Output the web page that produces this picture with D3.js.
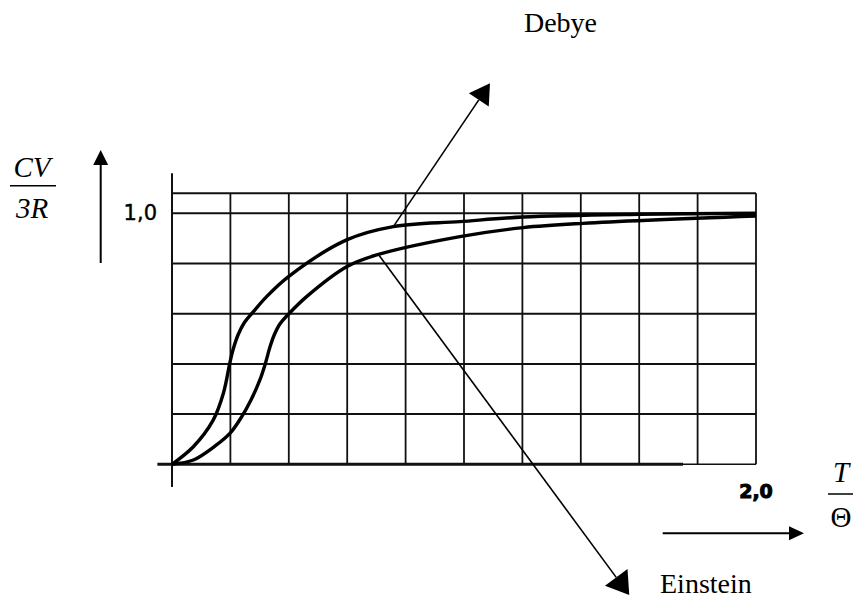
<!DOCTYPE html>
<html>
<head>
<meta charset="utf-8">
<script src="https://cdn.jsdelivr.net/npm/d3@7"></script>
<style>
  body { margin: 0; background: #fff; }
  svg { display: block; }
</style>
</head>
<body>
<div id="chart"></div>
<script>
// heat capacity curves (T/Theta vs Cv/3R)
var debyeT = [0, 0.073, 0.141, 0.176, 0.199, 0.210, 0.226, 0.248, 0.278, 0.324, 0.398, 0.598, 0.758, 0.986, 1.202, 1.6, 2.0];
var debyeC = [0, 0.070, 0.176, 0.283, 0.409, 0.460, 0.515, 0.565, 0.607, 0.668, 0.747, 0.894, 0.947, 0.967, 0.985, 0.996, 1.0];
var einsteinT = [0, 0.073, 0.150, 0.199, 0.239, 0.270, 0.301, 0.318, 0.336, 0.350, 0.370, 0.398, 0.461, 0.598, 0.701, 0.986, 1.203, 1.408, 2.0];
var einsteinC = [0, 0.017, 0.075, 0.124, 0.190, 0.255, 0.336, 0.395, 0.469, 0.515, 0.560, 0.597, 0.668, 0.787, 0.834, 0.907, 0.943, 0.960, 0.989];

var xGrid = d3.range(0, 2.0001, 0.2);   // vertical grid lines
var yGrid = [0, 0.2, 0.4, 0.6, 0.8, 1.0, 1.08]; // horizontal grid lines
var yTickLabel = "1,0";
var xTickLabel = "2,0";

// annotation arrows: start on the curve, tip in data units
var arrowNames = ["Debye", "Einstein"];
var arrowFrom = [[0.758, 0.947], [0.707, 0.836]];
var arrowTip = [[1.089, 1.518], [1.566, -0.521]];

function init() {
    var w = 854, h = 603;
    var svg = d3.select("#chart").append("svg")
        .attr("width", w)
        .attr("height", h);
    svg.append("rect").attr("width", w).attr("height", h).attr("fill", "#fff");

    var xScale = d3.scaleLinear().domain([0, 2]).range([172, 756]);
    var yScale = d3.scaleLinear().domain([0, 1]).range([464.3, 213.3]);

    var grid = svg.append("g").attr("stroke", "#111").attr("fill", "none");

    // vertical grid lines
    grid.selectAll(".vline")
        .data(xGrid)
        .enter()
        .append("line")
        .attr("x1", function(d) { return xScale(d); })
        .attr("x2", function(d) { return xScale(d); })
        .attr("y1", yScale(0))
        .attr("y2", yScale(1.08))
        .attr("stroke-width", function(d, i) { return i == 0 ? 2 : 1.8; });

    // horizontal grid lines
    grid.selectAll(".hline")
        .data(yGrid)
        .enter()
        .append("line")
        .attr("x1", xScale(0))
        .attr("x2", xScale(2))
        .attr("y1", function(d) { return yScale(d); })
        .attr("y2", function(d) { return yScale(d); })
        .attr("stroke-width", function(d) { return d == 0 ? 1.5 : 2; });

    // left axis runs past the grid, baseline is heavier
    grid.append("line")
        .attr("x1", xScale(0)).attr("x2", xScale(0))
        .attr("y1", yScale(1.16)).attr("y2", yScale(-0.09))
        .attr("stroke-width", 2);
    grid.append("line")
        .attr("x1", xScale(-0.05)).attr("x2", xScale(1.75))
        .attr("y1", yScale(0)).attr("y2", yScale(0))
        .attr("stroke-width", 3);

    // curves
    var line = d3.line()
        .x(function(d) { return xScale(d[0]); })
        .y(function(d) { return yScale(d[1]); })
        .curve(d3.curveCatmullRom.alpha(0.5));

    var series = [d3.zip(debyeT, debyeC), d3.zip(einsteinT, einsteinC)];
    svg.selectAll(".curve")
        .data(series)
        .enter()
        .append("path")
        .attr("class", "curve")
        .attr("d", line)
        .attr("fill", "none")
        .attr("stroke", "#000")
        .attr("stroke-width", 3.4);

    // annotation arrows with big filled heads
    var headLen = [20, 22], headWide = [24, 28];
    arrowNames.forEach(function(name, i) {
        var x0 = xScale(arrowFrom[i][0]), y0 = yScale(arrowFrom[i][1]);
        var x1 = xScale(arrowTip[i][0]), y1 = yScale(arrowTip[i][1]);
        var len = Math.hypot(x1 - x0, y1 - y0);
        var ux = (x1 - x0) / len, uy = (y1 - y0) / len;
        var bx = x1 - ux * headLen[i], by = y1 - uy * headLen[i];
        var hw = headWide[i] / 2;
        svg.append("line")
            .attr("x1", x0).attr("y1", y0)
            .attr("x2", bx).attr("y2", by)
            .attr("stroke", "#000")
            .attr("stroke-width", 1.6);
        svg.append("polygon")
            .attr("points", [[x1, y1], [bx - uy * hw, by + ux * hw], [bx + uy * hw, by - ux * hw]].join(" "))
            .attr("fill", "#000");
    });

    // tick labels
    svg.append("text")
        .attr("x", 157).attr("y", 220)
        .attr("text-anchor", "end")
        .style("font-family", "DejaVu Sans")
        .style("font-size", "21px")
        .attr("stroke", "#000").attr("stroke-width", 0.4)
        .text(yTickLabel);
    svg.append("text")
        .attr("x", xScale(2)).attr("y", 498)
        .attr("text-anchor", "middle")
        .style("font-family", "DejaVu Sans")
        .style("font-weight", "bold")
        .style("font-size", "19px")
        .attr("stroke", "#000").attr("stroke-width", 1)
        .text(xTickLabel);

    // curve names
    svg.append("text")
        .attr("x", 597).attr("y", 31.7)
        .attr("text-anchor", "end")
        .style("font-family", "Liberation Serif")
        .style("font-size", "28px")
        .text(arrowNames[0]);
    svg.append("text")
        .attr("x", 660).attr("y", 593.3)
        .style("font-family", "Liberation Serif")
        .style("font-size", "28px")
        .text(arrowNames[1]);

    // axis titles as fractions
    function fraction(cx, top, bar, bottom, x1, x2, upper, lower, lowerItalic) {
        svg.append("text")
            .attr("x", cx).attr("y", top)
            .attr("text-anchor", "middle")
            .style("font-family", "Liberation Serif")
            .style("font-style", "italic")
            .style("font-size", "29px")
            .text(upper);
        svg.append("line")
            .attr("x1", x1).attr("x2", x2)
            .attr("y1", bar).attr("y2", bar)
            .attr("stroke", "#000").attr("stroke-width", 1.5);
        svg.append("text")
            .attr("x", cx).attr("y", bottom)
            .attr("text-anchor", "middle")
            .style("font-family", "Liberation Serif")
            .style("font-style", lowerItalic ? "italic" : "normal")
            .style("font-size", "29px")
            .text(lower);
    }
    fraction(32, 176.7, 185.7, 218.3, 10, 56, "CV", "3R", true);
    fraction(841, 481.7, 494, 526.7, 828, 853, "T", "\u0398", false);

    // direction arrows next to the axes
    svg.append("line")
        .attr("x1", 100.7).attr("x2", 100.7)
        .attr("y1", 263).attr("y2", 164)
        .attr("stroke", "#000").attr("stroke-width", 2);
    svg.append("polygon")
        .attr("points", "100.7,150 93.2,165 108.2,165")
        .attr("fill", "#000");
    svg.append("line")
        .attr("x1", 662.7).attr("x2", 790)
        .attr("y1", 533.3).attr("y2", 533.3)
        .attr("stroke", "#000").attr("stroke-width", 2);
    svg.append("polygon")
        .attr("points", "804,533.3 789,526.3 789,540.3")
        .attr("fill", "#000");
}

window.onload = init;
</script>
</body>
</html>
